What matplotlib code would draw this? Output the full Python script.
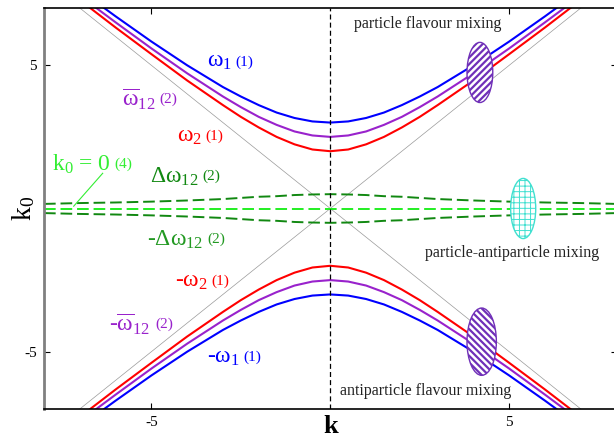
import numpy as np
import matplotlib
matplotlib.use("Agg")
import matplotlib.pyplot as plt
from matplotlib.patches import Ellipse
from matplotlib.offsetbox import TextArea, HPacker, AnnotationBbox

plt.rcParams["font.family"] = ["Liberation Serif", "DejaVu Serif"]
# upright Times-like greek, as in the original figure
plt.rcParams["mathtext.fontset"] = "custom"
plt.rcParams["mathtext.rm"] = "Liberation Serif"
plt.rcParams["mathtext.it"] = "Liberation Serif"
plt.rcParams["mathtext.bf"] = "Liberation Serif:bold"
plt.rcParams["axes.unicode_minus"] = False

# momentum samples and branch energies
k_pts = [0.0, 0.5, 1.0, 1.5, 2.0, 2.5, 3.0, 4.0, 5.0, 6.0, 7.0, 8.0]
omega_1 = [3.00, 3.04, 3.16, 3.35, 3.61, 3.91, 4.24, 5.00, 5.83, 6.71, 7.62, 8.54]
omega_12 = [2.50, 2.55, 2.69, 2.92, 3.20, 3.54, 3.91, 4.72, 5.59, 6.50, 7.43, 8.38]
omega_2 = [2.00, 2.06, 2.24, 2.50, 2.83, 3.20, 3.61, 4.47, 5.39, 6.32, 7.28, 8.25]
delta_12 = [0.50, 0.49, 0.47, 0.43, 0.41, 0.37, 0.33, 0.28, 0.24, 0.21, 0.19, 0.16]

# light cone k0 = +-k
cone_k = [-8.0, 8.0]

# mixing regions: (k, k0, width, height)
flavour_top = (4.18, 4.75, 0.72, 2.1)
flavour_bot = (4.23, -4.65, 0.82, 2.35)
part_anti = (5.39, 0.0, 0.70, 2.1)


def mirror(vals, sign=1.0):
    """Extend a k>=0 branch to negative k (even function)."""
    v = np.asarray(vals)
    return np.concatenate([v[:0:-1], v]) * sign


k_full = np.concatenate([-np.asarray(k_pts)[:0:-1], k_pts])

fig = plt.figure(figsize=(6.14, 4.41), dpi=100)
ax = fig.add_axes([44 / 614, 32 / 441, 572.6 / 614, 401 / 441])

ax.plot(cone_k, cone_k, color="#999999", lw=0.5, zorder=1)
ax.plot(cone_k, [-c for c in cone_k], color="#999999", lw=0.5, zorder=1)

for vals, col in [(omega_1, "#0000ff"), (omega_12, "#9922cc"), (omega_2, "#ff0000")]:
    ax.plot(k_full, mirror(vals), color=col, lw=1.5, zorder=2)
    ax.plot(k_full, mirror(vals, -1.0), color=col, lw=1.5, zorder=2)

ax.plot(k_full, mirror(delta_12), color="#118811", lw=1.4, dashes=(6, 2.5), zorder=2)
ax.plot(k_full, mirror(delta_12, -1.0), color="#118811", lw=1.4, dashes=(6, 2.5), zorder=2)
ax.plot(k_full, np.zeros_like(k_full), color="#22ee22", lw=1.4, dashes=(6, 2.5), zorder=2)

ax.axvline(0, color="black", lw=0.9, dashes=(4, 2.5), zorder=2)


def region(spec, hatch, col, hlw):
    e = Ellipse(spec[:2], spec[2], spec[3], facecolor="white", edgecolor=col,
                hatch=hatch, lw=1.0, zorder=4)
    if hasattr(e, "set_hatch_linewidth"):
        e.set_hatch_linewidth(hlw)
    ax.add_patch(e)


plt.rcParams["hatch.linewidth"] = 1.6
region(flavour_top, "/////", "#7030b8", 1.6)
region(flavour_bot, "\\\\\\\\\\", "#7030b8", 1.6)
plt.rcParams["hatch.linewidth"] = 0.7
region(part_anti, "+++", "#40e0d0", 0.7)


def branch_label(x, y, main, tag, col):
    box = HPacker(children=[TextArea(main, textprops=dict(color=col, fontsize=17)),
                            TextArea(tag, textprops=dict(color=col, fontsize=11))],
                  align="center", pad=0, sep=3)
    ab = AnnotationBbox(box, (x, y), box_alignment=(0, 0.5), frameon=False,
                        pad=0, zorder=6)
    ax.add_artist(ab)


branch_label(-3.45, 5.12, r"$\omega_1$", "(1)", "#0000ff")
branch_label(-5.83, 3.82, r"$\overline{\omega}_{12}$", "(2)", "#9922cc")
branch_label(-4.29, 2.52, r"$\omega_2$", "(1)", "#ff0000")
branch_label(-5.05, 1.12, r"$\Delta\omega_{12}$", "(2)", "#118811")
branch_label(-5.13, -1.08, r"-$\Delta\omega_{12}$", "(2)", "#229922")
branch_label(-4.35, -2.53, r"-$\omega_2$", "(1)", "#ff0000")
branch_label(-6.17, -4.03, r"-$\overline{\omega}_{12}$", "(2)", "#9922cc")
branch_label(-3.45, -5.18, r"-$\omega_1$", "(1)", "#0000ff")
branch_label(-7.79, 1.55, r"k$_0$ = 0", "(4)", "#33ee33")
ax.plot([-6.36, -7.17], [1.23, 0.08], color="#33ee33", lw=0.8, zorder=5)

ax.text(2.73, 6.43, "particle flavour mixing", fontsize=11.5, color="#222222",
        ha="center", va="center", zorder=6)
ax.text(5.08, -1.56, "particle-antiparticle mixing", fontsize=11.5, color="#222222",
        ha="center", va="center", zorder=6)
ax.text(2.67, -6.37, "antiparticle flavour mixing", fontsize=11.5, color="#222222",
        ha="center", va="center", zorder=6)

ax.set_xlim(-8, 8)
ax.set_ylim(-7, 7)
ax.set_xticks([-5, 5])
ax.set_yticks([-5, 5])
ax.tick_params(direction="in", length=4, width=0.8, top=True, right=True,
               labelsize=11, pad=5)
ax.spines["left"].set_color("#808080")
ax.spines["left"].set_linewidth(2)
for s in ("top", "bottom"):
    ax.spines[s].set_linewidth(1.2)

ax.set_xlabel("k", fontsize=19, fontweight="bold")
ax.xaxis.set_label_coords(0.5, -0.016)
ax.set_ylabel(r"k$_0$", fontsize=20)
ax.yaxis.set_label_coords(-0.012, 0.5)

fig.savefig("out.png", dpi=100)
